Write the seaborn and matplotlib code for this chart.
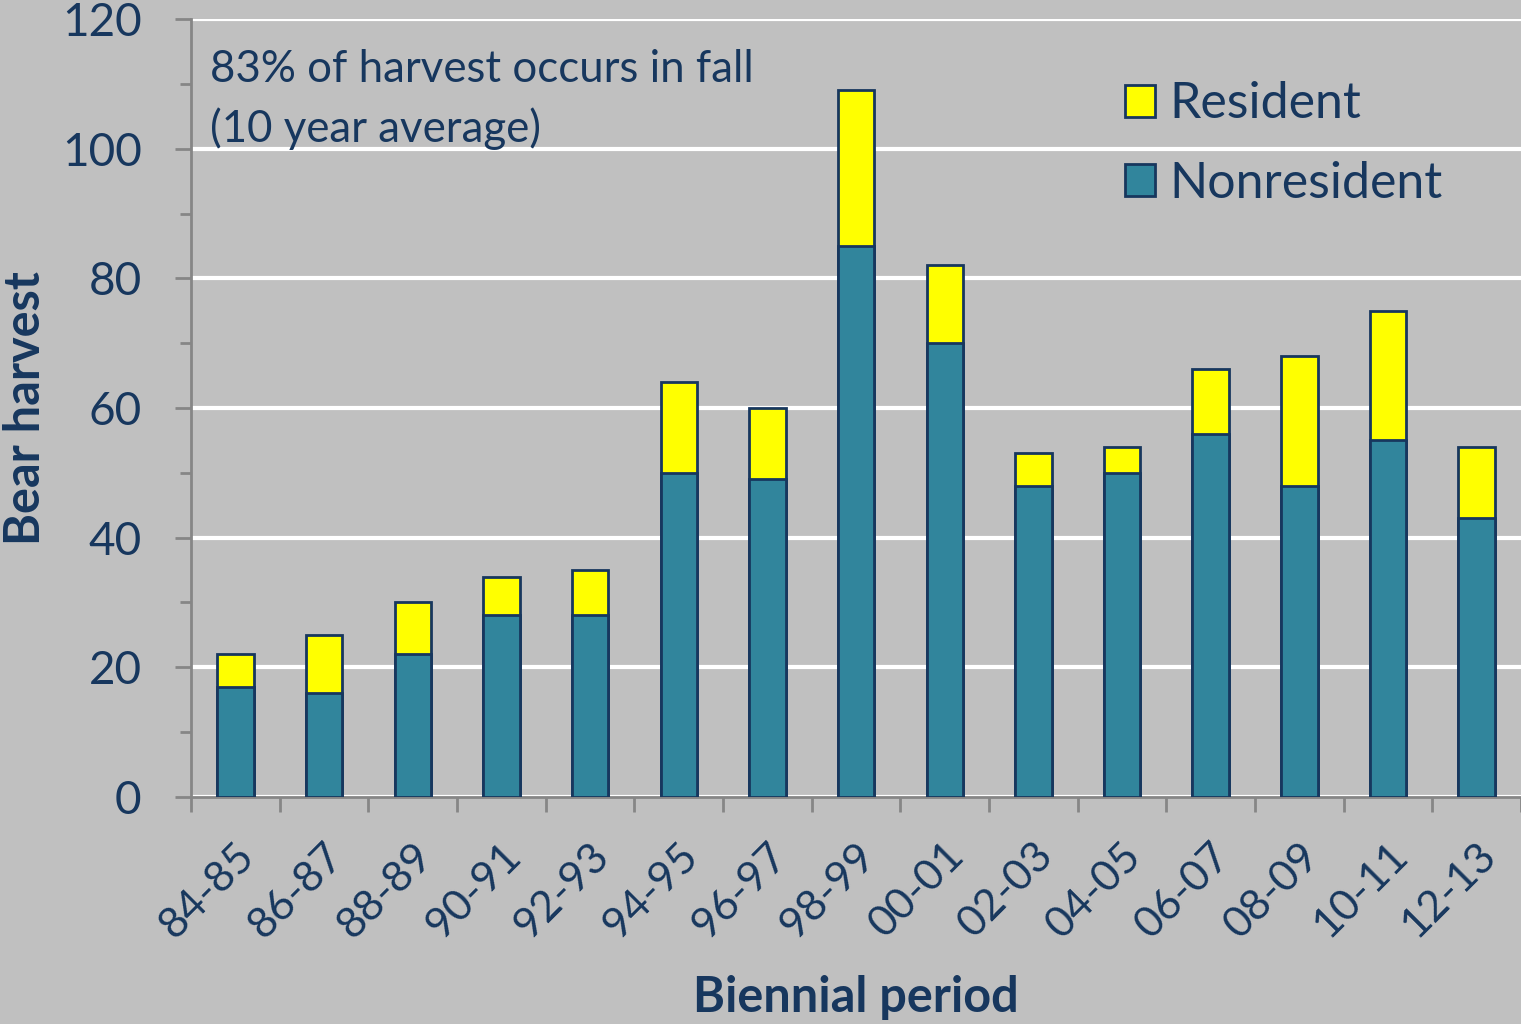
import pandas as pd
import seaborn as sns
import matplotlib.pyplot as plt
from matplotlib.patches import Patch
from matplotlib.ticker import MultipleLocator, FixedLocator

# data
periods = ['84-85', '86-87', '88-89', '90-91', '92-93', '94-95', '96-97', '98-99',
           '00-01', '02-03', '04-05', '06-07', '08-09', '10-11', '12-13']
nonresident = [17, 16, 22, 28, 28, 50, 49, 85, 70, 48, 50, 56, 48, 55, 43]
resident = [5, 9, 8, 6, 7, 14, 11, 24, 12, 5, 4, 10, 20, 20, 11]

df = pd.DataFrame({'period': periods, 'Nonresident': nonresident, 'Resident': resident})
df['total'] = df['Nonresident'] + df['Resident']

navy = '#17375E'
teal = '#31859C'
yellow = '#FFFF00'
bg = '#C0C0C0'
axis_gray = '#868686'

sns.set_theme(style='white')
plt.rcParams['font.family'] = ['Lato', 'DejaVu Sans']

fig = plt.figure(figsize=(15.21, 10.24), dpi=100, facecolor=bg)
ax = fig.add_axes([0.1256, 0.2217, 0.8744, 0.7597])
ax.set_facecolor(bg)

# stacked bars: total in yellow, nonresident drawn over it
sns.barplot(data=df, x='period', y='total', color=yellow, width=0.41,
            edgecolor=navy, linewidth=2, saturation=1, ax=ax, zorder=3)
sns.barplot(data=df, x='period', y='Nonresident', color=teal, width=0.41,
            edgecolor=navy, linewidth=2, saturation=1, ax=ax, zorder=4)

ax.set_ylim(0, 120)
ax.set_xlim(-0.5, len(periods) - 0.5)
ax.yaxis.set_major_locator(MultipleLocator(20))
ax.yaxis.set_minor_locator(MultipleLocator(10))
ax.grid(axis='y', which='major', color='white', linewidth=3, zorder=1)
ax.set_axisbelow(True)

for side in ['top', 'right']:
    ax.spines[side].set_visible(False)
for side in ['left', 'bottom']:
    ax.spines[side].set_color(axis_gray)
    ax.spines[side].set_linewidth(2)

ax.tick_params(axis='y', which='major', direction='out', length=11.5, width=2,
               color=axis_gray, labelsize=33, labelcolor=navy, pad=24, left=True)
ax.tick_params(axis='y', which='minor', direction='out', length=8, width=2,
               color=axis_gray, left=True)
# category boundary ticks on x
ax.xaxis.set_minor_locator(FixedLocator([i - 0.5 for i in range(len(periods) + 1)]))
ax.tick_params(axis='x', which='minor', direction='out', length=11, width=2,
               color=axis_gray, bottom=True)
ax.tick_params(axis='x', which='major', length=0, labelsize=31, labelcolor=navy, pad=28)
plt.setp(ax.get_xticklabels(), rotation=45, ha='right', rotation_mode='anchor')

ax.set_xlabel('Biennial period', fontsize=35, fontweight='bold', color=navy, labelpad=22)
ax.set_ylabel('Bear harvest', fontsize=35, fontweight='bold', color=navy, labelpad=10)

ax.text(0.014, 0.961, '83% of harvest occurs in fall\n(10 year average)',
        transform=ax.transAxes, fontsize=31.5, color=navy, va='top', ha='left',
        linespacing=1.5)

handles = [Patch(facecolor=yellow, edgecolor=navy, linewidth=2),
           Patch(facecolor=teal, edgecolor=navy, linewidth=2)]
leg = ax.legend(handles, ['Resident', 'Nonresident'], loc='upper left',
                bbox_to_anchor=(0.702, 0.92), frameon=False, fontsize=36,
                handlelength=0.6, handleheight=0.6, handletextpad=0.3,
                labelspacing=0.67, borderpad=0, borderaxespad=0)
for t in leg.get_texts():
    t.set_color(navy)

plt.savefig('out.png', dpi=100, facecolor=bg)
